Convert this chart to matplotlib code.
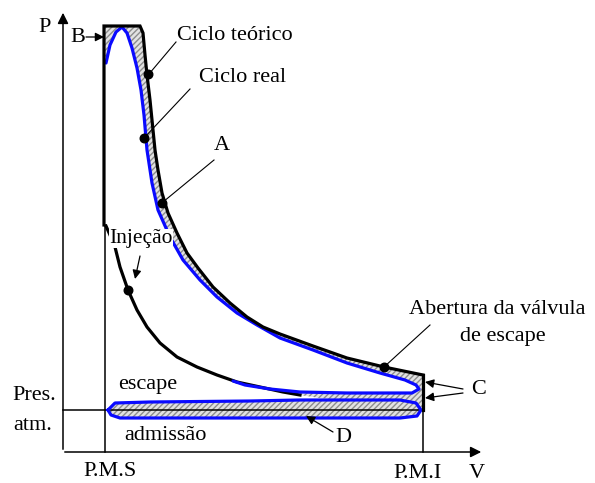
"""Diagrama P-V: ciclo teórico x ciclo real (motor diesel)."""

import matplotlib.pyplot as plt
from matplotlib.patches import Polygon

# --- data (picture coordinates, y grows downwards) ---
# theoretical cycle, top + expansion (black)
theo_top_x = [104, 104, 140]
theo_top_y = [225, 26, 26]
theo_exp_x = [140, 143, 145, 147, 150, 152, 155, 158, 162, 168, 177, 187, 198, 213,
              230, 247, 263, 280, 313, 347, 384, 423]
theo_exp_y = [26, 33, 55, 75, 100, 120, 150, 170, 193, 213, 233, 253, 268, 287,
              303, 317, 327, 334, 346, 358, 367, 375]
# theoretical blow-down at P.M.I
theo_pmi_x = [423, 423]
theo_pmi_y = [375, 410]
# theoretical compression (from P.M.I to P.M.S)
theo_comp_x = [423, 400, 350, 320, 300, 283, 260, 237, 217, 197, 177, 160, 147, 137,
               128, 120, 115, 110, 106]
theo_comp_y = [410, 406, 401, 398, 395, 392, 387, 382, 375, 367, 357, 343, 327, 310,
               290, 267, 247, 235, 226]

# real cycle (blue): combustion + expansion + exhaust stroke
real_x = [106, 110, 116, 122, 127, 132, 137, 141, 144, 147, 152, 158, 170, 183, 200, 217,
          237, 257, 280, 313, 347, 380, 405, 416, 419, 412, 380, 347, 300, 270, 245, 233]
real_y = [63, 45, 32, 27, 33, 48, 68, 90, 115, 150, 183, 210, 237, 260, 280, 297,
          313, 325, 338, 350, 363, 373, 380, 385, 389, 393, 393, 393, 392, 389, 385, 381]

# pumping loop (admissão / escape), real
loop_x = [108, 115, 150, 250, 300, 400, 416, 421, 417, 400, 300, 200, 120, 111, 108]
loop_y = [410, 403, 402, 401, 400, 400, 403, 410, 416, 418, 418, 418, 418, 415, 410]

# marked points on the curves
dots_x = [148, 144, 162, 128, 384]
dots_y = [74, 138, 203, 290, 367]

LW = 2.3
BLUE = "#0a0aff"

fig = plt.figure(figsize=(5.95, 4.83), dpi=100)
ax = fig.add_axes([0, 0, 1, 1])
ax.set_xlim(0, 595)
ax.set_ylim(483, 0)
ax.axis("off")

plt.rcParams["font.family"] = ["Liberation Serif", "DejaVu Serif"]
fs = 16

# hatched area between theoretical and real cycle
area_x = [104] + theo_top_x[1:] + theo_exp_x + theo_pmi_x[1:] + theo_comp_x[:8] + real_x[::-1]
area_y = [63] + theo_top_y[1:] + theo_exp_y + theo_pmi_y[1:] + theo_comp_y[:8] + real_y[::-1]
ax.add_patch(Polygon(list(zip(area_x, area_y)), closed=True, facecolor="#e2e2e2",
                     edgecolor="#8c8c8c", hatch="//////", linewidth=0, zorder=1))

# pumping loop
ax.add_patch(Polygon(list(zip(loop_x, loop_y)), closed=True, facecolor="#e2e2e2",
                     edgecolor="#8c8c8c", hatch="//////", linewidth=0, zorder=1))

# axes with arrows
ax.annotate("", xy=(63, 10), xytext=(63, 452),
            arrowprops=dict(arrowstyle="-|>", color="k", lw=1.1, mutation_scale=16))
ax.annotate("", xy=(484, 452), xytext=(62, 452),
            arrowprops=dict(arrowstyle="-|>", color="k", lw=1.1, mutation_scale=16))

# thin reference lines: P.M.S, P.M.I and atmospheric pressure
ax.plot([105, 105], [225, 452], color="k", lw=1.1, zorder=2)
ax.plot([423, 423], [410, 452], color="k", lw=1.1, zorder=2)
ax.plot([63, 421], [410, 410], color="k", lw=1.1, zorder=2)

# real cycle
ax.plot(real_x, real_y, color=BLUE, lw=LW, zorder=3, solid_capstyle="round",
        solid_joinstyle="round")
ax.plot(loop_x, loop_y, color=BLUE, lw=LW, zorder=3, solid_joinstyle="round")

# theoretical cycle
ax.plot(theo_top_x + theo_exp_x[1:], theo_top_y + theo_exp_y[1:], color="k",
        lw=LW, zorder=4, solid_joinstyle="miter")
ax.plot(theo_pmi_x, theo_pmi_y, color="k", lw=LW, zorder=4)
ax.plot(theo_comp_x[4:], theo_comp_y[4:], color="k", lw=LW, zorder=2,
        solid_joinstyle="round")

ax.scatter(dots_x, dots_y, s=38, color="k", zorder=6)

# text labels
ax.text(38, 28, "P", fontsize=fs, ha="left", va="center")
ax.text(477, 474, "V", fontsize=fs, ha="center", va="center")
ax.text(110, 472, "P.M.S", fontsize=fs, ha="center", va="center")
ax.text(418, 474, "P.M.I", fontsize=fs, ha="center", va="center")
ax.text(34, 395, "Pres.", fontsize=fs, ha="center", va="center")
ax.text(33, 425, "atm.", fontsize=fs, ha="center", va="center")
ax.text(148, 384, "escape", fontsize=fs, ha="center", va="center")
ax.text(165, 436, "admissão", fontsize=fs, ha="center", va="center")
ax.text(177, 35, "Ciclo teórico", fontsize=fs, ha="left", va="center")
ax.text(199, 77, "Ciclo real", fontsize=fs, ha="left", va="center")
ax.text(222, 146, "A", fontsize=fs, ha="center", va="center")
ax.text(497, 309, "Abertura da válvula", fontsize=fs, ha="center", va="center")
ax.text(503, 337, "de escape", fontsize=fs, ha="center", va="center")
ax.text(479, 390, "C", fontsize=fs, ha="center", va="center")
ax.text(343, 437, "D", fontsize=fs, ha="center", va="center")
ax.text(109, 238, "Injeção", fontsize=fs - 0.5, ha="left", va="center", zorder=7,
        bbox=dict(facecolor="white", edgecolor="none", pad=0))
ax.text(78, 37, "B", fontsize=fs, ha="center", va="center")

# leader lines and arrows
leaders = [((176, 42), (149, 74)), ((190, 89), (144, 138)),
           ((214, 160), (163, 202)), ((430, 325), (384, 367))]
for (x0, y0), (x1, y1) in leaders:
    ax.plot([x0, x1], [y0, y1], color="k", lw=0.8, zorder=5)

arrows = [((86, 37), (104, 37)), ((463, 389), (425, 382)), ((463, 393), (425, 398)),
          ((333, 432), (306, 416)), ((140, 256), (135, 279))]
for tail, tip in arrows:
    ax.annotate("", xy=tip, xytext=tail, zorder=6,
                arrowprops=dict(arrowstyle="-|>", color="k", lw=0.9, mutation_scale=13,
                                shrinkA=0, shrinkB=0))

fig.savefig("out.png", dpi=100)
